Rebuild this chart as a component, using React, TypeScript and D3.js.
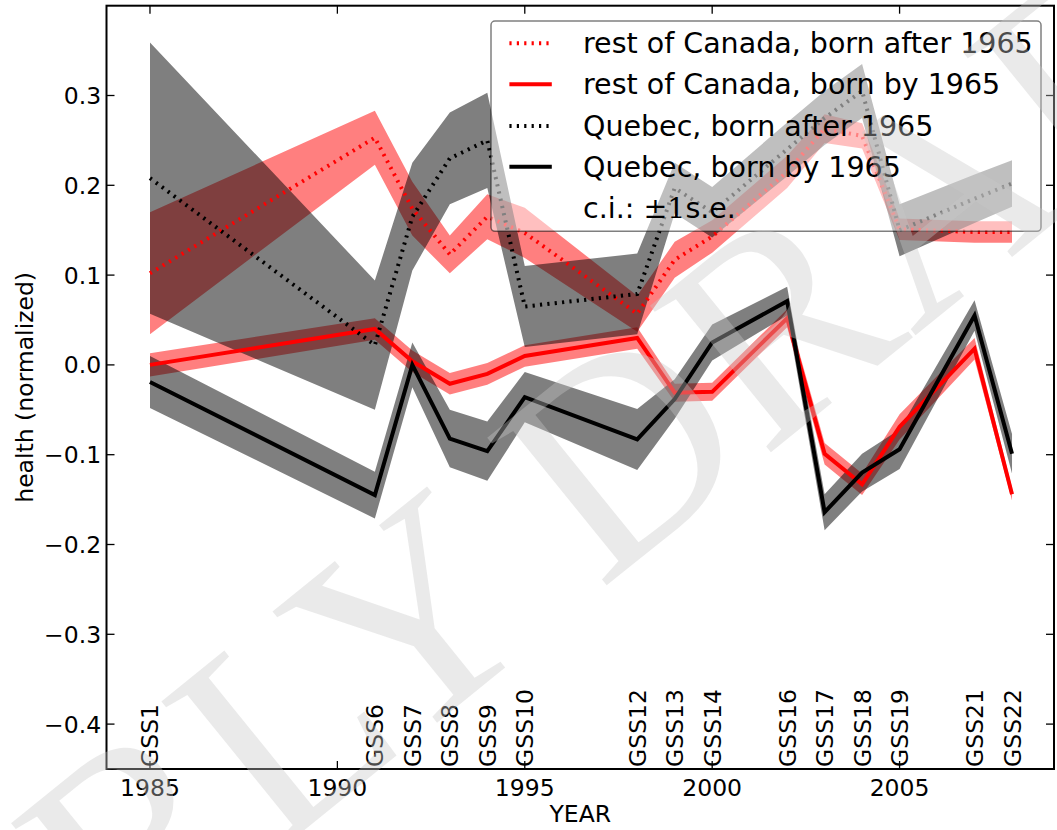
import React from 'react';
import * as d3 from 'd3';

// survey years and their GSS cycle labels
const years = [1985, 1991, 1992, 1993, 1994, 1995, 1998, 1999, 2000, 2002, 2003, 2004, 2005, 2007, 2008];
const surveys = ['GSS1', 'GSS6', 'GSS7', 'GSS8', 'GSS9', 'GSS10', 'GSS12', 'GSS13', 'GSS14', 'GSS16', 'GSS17', 'GSS18', 'GSS19', 'GSS21', 'GSS22'];

// rest of Canada, born after 1965
const rocAfter = [0.102, 0.253, 0.174, 0.123, 0.165, 0.147, 0.057, 0.117, 0.143, 0.215, 0.263, 0.255, 0.151, 0.148, 0.148];
const rocAfterSe = [0.068, 0.03, 0.03, 0.021, 0.025, 0.028, 0.02, 0.02, 0.018, 0.018, 0.016, 0.014, 0.012, 0.012, 0.012];
// rest of Canada, born by 1965
const rocBy = [0.0, 0.04, 0.004, -0.021, -0.01, 0.01, 0.03, -0.031, -0.03, 0.052, -0.099, -0.133, -0.069, 0.018, -0.144];
const rocBySe = [0.013, 0.012, 0.012, 0.012, 0.012, 0.012, 0.012, 0.01, 0.01, 0.01, 0.012, 0.012, 0.014, 0.012, 0.007];
// Quebec, born after 1965
const qcAfter = [0.208, 0.022, 0.165, 0.23, 0.25, 0.065, 0.079, 0.197, 0.17, 0.24, 0.275, 0.305, 0.15, 0.185, 0.202];
const qcAfterSe = [0.151, 0.072, 0.06, 0.051, 0.053, 0.045, 0.045, 0.028, 0.028, 0.03, 0.03, 0.03, 0.029, 0.027, 0.026];
// Quebec, born by 1965
const qcBy = [-0.019, -0.145, 0.0, -0.082, -0.096, -0.036, -0.083, -0.038, 0.025, 0.071, -0.164, -0.12, -0.094, 0.055, -0.099];
const qcBySe = [0.029, 0.026, 0.025, 0.032, 0.033, 0.028, 0.034, 0.022, 0.02, 0.016, 0.02, 0.021, 0.022, 0.017, 0.022];

const xTicks = [1985, 1990, 1995, 2000, 2005];
const yTicks = [-0.4, -0.3, -0.2, -0.1, 0, 0.1, 0.2, 0.3];

const W = 1057;
const H = 830;
const left = 106.5, right = 1054, top = 5.7, bottom = 769;
const font = 'DejaVu Sans';
const fs = 23.5;
const DOTS = '2.2,5.2';

const x = d3.scaleLinear().domain([1983.84, 2009.12]).range([left, right]);
const y = d3.scaleLinear().domain([-0.45, 0.4]).range([bottom, top]);
const fmt = d3.format('.1f');

const band = (vals: number[], se: number[]) =>
  d3.area<number>()
    .x((_, i) => x(years[i]))
    .y0((_, i) => y(vals[i] - se[i]))
    .y1((_, i) => y(vals[i] + se[i]))(vals) || '';

const line = (vals: number[]) =>
  d3.line<number>()
    .x((_, i) => x(years[i]))
    .y(d => y(d))(vals) || '';

const series = [
  { name: 'rest of Canada, born after 1965', vals: rocAfter, se: rocAfterSe, color: '#ff0000', dash: DOTS },
  { name: 'rest of Canada, born by 1965', vals: rocBy, se: rocBySe, color: '#ff0000', dash: undefined },
  { name: 'Quebec, born after 1965', vals: qcAfter, se: qcAfterSe, color: '#000000', dash: DOTS },
  { name: 'Quebec, born by 1965', vals: qcBy, se: qcBySe, color: '#000000', dash: undefined },
];

const App: React.FC = () => {
  const legendRows = [43.3, 84.3, 126, 166.7, 208.3];
  return (
    <svg width={W} height={H} style={{ position: 'absolute', left: 0, top: 0, background: '#fff' }}
      fontFamily={font}>
      <defs>
        <clipPath id="plot">
          <rect x={left} y={top} width={right - left} height={bottom - top} />
        </clipPath>
      </defs>

      <g clipPath="url(#plot)">
        {/* c.i. bands, red first so grey sits over them */}
        {series.map((s, i) => (
          <path key={'b' + i} d={band(s.vals, s.se)} fill={s.color} fillOpacity={0.5} stroke="none" />
        ))}
        {series.map((s, i) => (
          <path key={'l' + i} d={line(s.vals)} fill="none" stroke={s.color} strokeWidth={4}
            strokeDasharray={s.dash} strokeLinejoin="miter" />
        ))}
      </g>

      {/* survey labels */}
      {surveys.map((s, i) => (
        <text key={s} transform={`translate(${x(years[i]) + 8.5},${bottom - 2}) rotate(-90)`}
          fontSize={fs} textAnchor="start">{s}</text>
      ))}

      {/* frame and inward ticks */}
      <rect x={left} y={top} width={right - left} height={bottom - top} fill="none" stroke="#000" strokeWidth={2} />
      {yTicks.map(t => (
        <g key={'y' + t}>
          <line x1={left} x2={left + 8} y1={y(t)} y2={y(t)} stroke="#000" strokeWidth={1.3} />
          <line x1={right - 8} x2={right} y1={y(t)} y2={y(t)} stroke="#000" strokeWidth={1.3} />
          <text x={left - 5.4} y={y(t)} dy="0.36em" textAnchor="end" fontSize={fs}>{fmt(t)}</text>
        </g>
      ))}
      {xTicks.map(t => (
        <g key={'x' + t}>
          <line x1={x(t)} x2={x(t)} y1={top} y2={top + 8} stroke="#000" strokeWidth={1.3} />
          <line x1={x(t)} x2={x(t)} y1={bottom - 8} y2={bottom} stroke="#000" strokeWidth={1.3} />
          <text x={x(t)} y={795.5} textAnchor="middle" fontSize={fs}>{t}</text>
        </g>
      ))}

      <text x={(left + right) / 2} y={822} textAnchor="middle" fontSize={fs}>YEAR</text>
      <text transform={`translate(33,${(top + bottom) / 2}) rotate(-90)`} textAnchor="middle" fontSize={fs}>
        health (normalized)
      </text>

      {/* legend */}
      <rect x={491} y={21} width={550} height={210.3} rx={4} fill="#fff" fillOpacity={0.5}
        stroke="#000" strokeOpacity={0.5} strokeWidth={1.5} />
      {series.map((s, i) => (
        <g key={'g' + i}>
          <line x1={509.4} x2={551.8} y1={legendRows[i]} y2={legendRows[i]} stroke={s.color} strokeWidth={4}
            strokeDasharray={s.dash} />
          <text x={583} y={legendRows[i] + 10} fontSize={28.5}>{s.name}</text>
        </g>
      ))}
      <text x={583} y={legendRows[4] + 10} fontSize={28.5}>
        c.i.: <tspan fontFamily="DejaVu Serif">±1</tspan>s.e.
      </text>

      {/* watermark */}
      <text transform="translate(520,530) rotate(-39)" textAnchor="middle" dominantBaseline="central"
        fontFamily="Liberation Serif" fontSize={290} fill="#c8c8c8" fillOpacity={0.38}>
        EARLY DRAFT
      </text>
    </svg>
  );
};

export default App;
